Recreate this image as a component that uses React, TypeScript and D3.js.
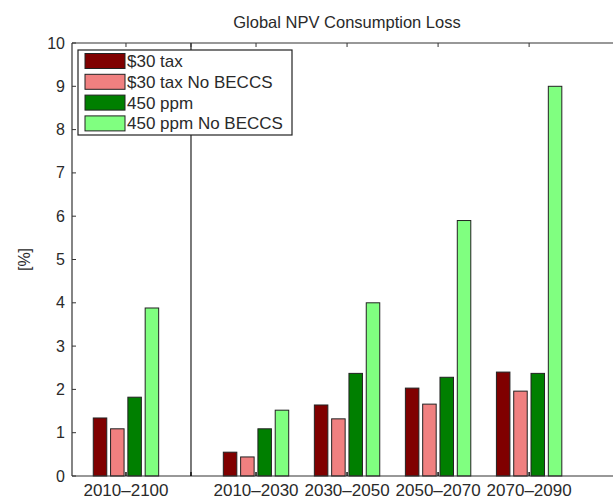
import React from "react";
import * as d3 from "d3";

const categories = ["2010–2100", "2010–2030", "2030–2050", "2050–2070", "2070–2090"];
const categoryPositions = [1, 3, 4.4, 5.8, 7.2];
const separatorPosition = 2;
const seriesNames = ["$30 tax", "$30 tax No BECCS", "450 ppm", "450 ppm No BECCS"];
const tax30 = [1.34, 0.55, 1.64, 2.03, 2.4];
const tax30NoBeccs = [1.09, 0.44, 1.32, 1.66, 1.96];
const ppm450 = [1.82, 1.09, 2.37, 2.28, 2.37];
const ppm450NoBeccs = [3.88, 1.52, 4.0, 5.9, 9.0];
const yTicks = [0, 1, 2, 3, 4, 5, 6, 7, 8, 9, 10];
const colors = ["#800000", "#F08080", "#007F00", "#80FF80"];

const series = [tax30, tax30NoBeccs, ppm450, ppm450NoBeccs];

export default function App() {
  const W = 613, H = 499;
  const left = 72, right = 613, top = 43, bottom = 476;
  const x = d3.scaleLinear().domain([0.17, 8.49]).range([left, right]);
  const y = d3.scaleLinear().domain([0, 10]).range([bottom, top]);
  const step = 17.3;
  const barW = 13.5;
  const font = "Liberation Sans, Arial, sans-serif";
  const txt = "#2a2a2a";
  const tickPositions = [1, 2, 3, 4.4, 5.8, 7.2];
  return (
    <svg width={W} height={H} style={{ position: "absolute", left: 0, top: 0, background: "#fff" }}>
      <text x={347} y={28} textAnchor="middle" fontFamily={font} fontSize={16.5} fill={txt}>
        Global NPV Consumption Loss
      </text>
      {categories.map((c, i) =>
        series.map((s, k) => {
          const cx = x(categoryPositions[i]) + (k - 1.5) * step;
          return (
            <rect
              key={c + k}
              x={cx - barW / 2}
              y={y(s[i])}
              width={barW}
              height={y(0) - y(s[i])}
              fill={colors[k]}
              stroke="#222"
              strokeWidth={1}
            />
          );
        })
      )}
      <line x1={x(separatorPosition)} x2={x(separatorPosition)} y1={top} y2={bottom} stroke="#222" strokeWidth={1.2} />
      <line x1={left} x2={right} y1={top} y2={top} stroke="#333" strokeWidth={1.2} />
      <line x1={left} x2={right} y1={bottom} y2={bottom} stroke="#333" strokeWidth={1.2} />
      <line x1={left} x2={left} y1={top} y2={bottom} stroke="#333" strokeWidth={1.2} />
      {tickPositions.map((p) => (
        <g key={p}>
          <line x1={x(p)} x2={x(p)} y1={top} y2={top + 4} stroke="#333" />
          <line x1={x(p)} x2={x(p)} y1={bottom} y2={bottom - 4} stroke="#111" strokeWidth={1.5} />
        </g>
      ))}
      {yTicks.map((t) => (
        <g key={t}>
          <line x1={left} x2={left + 4} y1={y(t)} y2={y(t)} stroke="#333" />
          <text x={left - 7} y={y(t) + 5.5} textAnchor="end" fontFamily={font} fontSize={16} fill={txt}>
            {t}
          </text>
        </g>
      ))}
      {categories.map((c, i) => (
        <text key={c} x={x(categoryPositions[i])} y={bottom + 20} textAnchor="middle" fontFamily={font} fontSize={17} fill={txt}>
          {c}
        </text>
      ))}
      <text transform={`translate(30,${y(5)}) rotate(-90)`} textAnchor="middle" fontFamily={font} fontSize={16} fill={txt}>
        [%]
      </text>
      <rect x={78} y={50} width={214} height={85} fill="#fff" stroke="#222" strokeWidth={1.2} />
      {seriesNames.map((n, k) => (
        <g key={n}>
          <rect x={85} y={53.5 + k * 20.8} width={40} height={15} fill={colors[k]} stroke="#222" />
          <text x={127} y={67 + k * 20.8} fontFamily={font} fontSize={17} fill={txt}>
            {n}
          </text>
        </g>
      ))}
    </svg>
  );
}
